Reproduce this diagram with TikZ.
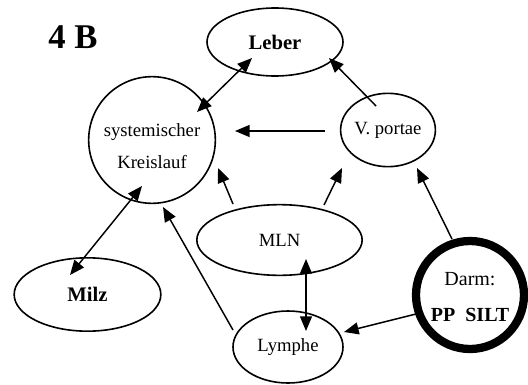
\documentclass[tikz,border=0pt]{standalone}
\usepackage{fontspec}
\setmainfont{Liberation Serif}
\usetikzlibrary{shapes.geometric,arrows.meta}
\begin{document}
\begin{tikzpicture}[x=0.75pt,y=-0.75pt,
  every node/.style={inner sep=0pt,outer sep=0pt,align=center},
  oval/.style={draw,ellipse,line width=1.2pt,font=\fontsize{14}{17}\selectfont},
  boldoval/.style={oval,font=\fontsize{15.5}{18}\selectfont\bfseries},
  arr/.style={line width=1.1pt,-{Triangle[length=11pt,width=9pt]}},
  darr/.style={line width=1.1pt,{Triangle[length=11pt,width=9pt]}-{Triangle[length=11pt,width=9pt]}}]
\useasboundingbox (0,0) rectangle (528,385);
\node[font=\fontsize{26}{29}\selectfont\bfseries] (title) at (73,37) {4 B};
\node[boldoval,minimum width=102pt,minimum height=51pt] (leber) at (275,42) {Leber};
\node[draw,circle,line width=1.2pt,minimum size=95pt,font=\fontsize{14}{24}\selectfont,
      text height=44pt,text depth=2pt] (syst) at (152,140) {systemischer\\Kreislauf};
\node[oval,minimum width=69pt,minimum height=55pt] (vp) at (388,130) {V. portae};
\node[oval,minimum width=124pt,minimum height=53pt] (mln) at (279.5,240) {MLN};
\node[boldoval,minimum width=110pt,minimum height=55pt] (milz) at (87.5,294.5) {Milz};
\node[oval,minimum width=82.5pt,minimum height=54pt] (lym) at (288,347) {Lymphe};
\node[draw,circle,line width=6.2pt,minimum size=81pt,font=\fontsize{15}{27}\selectfont,
      text height=42pt,text depth=2pt] (darm) at (470,295) {Darm:\\\textbf{PP\ \ SILT}};
% connector end points
\coordinate (l1) at (252,58);  \coordinate (s1) at (197,112);
\coordinate (v2) at (376,106); \coordinate (l2) at (329,58);
\coordinate (v3) at (325,131); \coordinate (s3) at (235,131);
\coordinate (m4) at (233,204); \coordinate (s4) at (218,168);
\coordinate (m5) at (324,205); \coordinate (v5) at (342,168);
\coordinate (d6) at (452,239); \coordinate (v6) at (417,168);
\coordinate (y7) at (233,330); \coordinate (s7) at (163,207);
\coordinate (s8) at (142,186); \coordinate (z8) at (70,275);
\coordinate (m9) at (306,259); \coordinate (y9) at (306,331);
\coordinate (d10) at (416,314); \coordinate (y10) at (344,332);
\draw[darr] (l1) -- (s1);
\draw[arr] (v2) -- (l2);
\draw[arr] (v3) -- (s3);
\draw[arr] (m4) -- (s4);
\draw[arr] (m5) -- (v5);
\draw[arr] (d6) -- (v6);
\draw[arr] (y7) -- (s7);
\draw[darr] (s8) -- (z8);
\draw[darr] (m9) -- (y9);
\draw[arr] (d10) -- (y10);
\end{tikzpicture}
\end{document}
